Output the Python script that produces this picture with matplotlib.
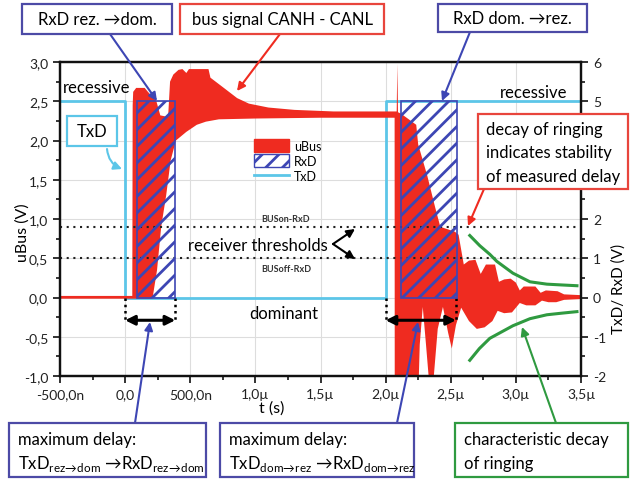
import matplotlib
matplotlib.use('Agg')
import matplotlib.pyplot as plt
from matplotlib.patches import Rectangle, Patch
from matplotlib.lines import Line2D
from matplotlib.ticker import MultipleLocator, FixedLocator, FuncFormatter

plt.rcParams['font.family'] = ['Lato', 'DejaVu Sans']
plt.rcParams['mathtext.fontset'] = 'custom'
plt.rcParams['mathtext.rm'] = 'Lato'
plt.rcParams['hatch.linewidth'] = 2.0

# time axis in microseconds
x_ticks = [-0.5, 0.0, 0.5, 1.0, 1.5, 2.0, 2.5, 3.0, 3.5]
x_tick_labels = ['-500,0n', '0,0', '500,0n', '1,0µ', '1,5µ', '2,0µ', '2,5µ', '3,0µ', '3,5µ']
# right axis labels hidden behind the "decay of ringing" box
right_hidden = [3, 4]

# bus signal (uBus, V): upper edge of the persistence band
bus_hi_t = [-0.5, 0.055, 0.058, 0.062, 0.085, 0.15, 0.175, 0.24, 0.27, 0.33, 0.345, 0.37,
            0.41, 0.44, 0.47, 0.49, 0.64, 0.655, 0.75, 0.86, 0.95, 1.1, 1.3, 1.6, 2.069,
            2.085, 2.09, 2.095, 2.12, 2.235, 2.25, 2.32, 2.38, 2.42, 2.53, 2.56, 2.60, 2.64,
            2.69, 2.73, 2.77, 2.84, 2.87, 2.91, 2.96, 3.0, 3.03, 3.06, 3.15, 3.19, 3.23, 3.32,
            3.37, 3.5]
bus_hi = [0.02, 0.02, 2.45, 2.62, 2.67, 2.67, 2.62, 2.5, 2.32, 2.3, 2.75, 2.84,
          2.9, 2.91, 2.86, 2.91, 2.91, 2.8, 2.68, 2.54, 2.47, 2.42, 2.39, 2.37, 2.37,
          2.37, 2.98, 2.36, 2.34, 2.2, 1.95, 1.55, 1.15, 0.9, 0.84, 0.8, 0.42, 0.47,
          0.48, 0.3, 0.42, 0.42, 0.2, 0.23, 0.24, 0.19, 0.09, 0.14, 0.14, 0.06, 0.09, 0.08,
          0.04, 0.03]
# lower edge of the band
bus_lo_t = [-0.5, 0.21, 0.245, 0.277, 0.315, 0.35, 0.39, 0.47, 0.55, 0.62, 0.72, 1.0, 1.5,
            2.069, 2.07, 2.25, 2.262, 2.285, 2.31, 2.345, 2.37, 2.40, 2.44, 2.48, 2.508,
            2.54, 2.58, 2.64, 2.70, 2.76, 2.82, 2.86, 2.91, 2.97, 3.03, 3.08, 3.15, 3.2,
            3.25, 3.31, 3.37, 3.5]
bus_lo = [-0.015, -0.015, 0.35, 0.9, 1.3, 1.75, 2.0, 2.11, 2.2, 2.24, 2.27, 2.28, 2.29,
          2.29, -1.3, -1.3, -0.6, -0.12, -0.6, -1.3, -1.0, -0.4, -0.12, -0.45, -0.65,
          -0.35, -0.13, -0.3, -0.4, -0.38, -0.3, -0.17, -0.2, -0.19, -0.07, -0.1, -0.1, -0.04,
          -0.06, -0.06, -0.03, -0.02]

# TxD (right axis, V)
txd_t = [-0.5, 0.0, 0.0, 2.0, 2.0, 3.5]
txd_v = [5, 5, 0, 0, 5, 5]

# RxD switching windows (right axis, V)
rxd_start = [0.09, 2.12]
rxd_end = [0.385, 2.55]
rxd_high = 5

# receiver thresholds (uBus, V)
thresholds = [0.9, 0.5]
threshold_names = ['BUSon-RxD', 'BUSoff-RxD']

# measured delays TxD -> RxD (µs)
delay_start = [0.0, 2.0]
delay_end = [0.385, 2.54]
delay_level = -0.29

# decay of ringing guide curves
decay_hi_t = [2.646, 2.723, 2.8, 2.854, 2.977, 3.108, 3.238, 3.35, 3.469]
decay_hi = [0.79, 0.66, 0.55, 0.46, 0.31, 0.2, 0.17, 0.16, 0.15]
decay_lo_t = [2.646, 2.72, 2.8, 2.977, 3.108, 3.238, 3.35, 3.469]
decay_lo = [-0.80, -0.65, -0.52, -0.36, -0.27, -0.22, -0.2, -0.18]

RED = '#ef2b20'
BLUE = '#3d46b4'
CYAN = '#5cc6e8'
GREEN = '#2f9a40'
BOXRED = '#e8453c'
BOXBLUE = '#4c4aa6'

W, H = 630, 481


def P(x, y):
    # pixel position (top-left origin) -> figure fraction
    return (x / W, 1 - y / H)


fig = plt.figure(figsize=(6.3, 4.81), dpi=100)
ax = fig.add_axes([60 / W, 1 - 377 / H, 521 / W, 314 / H])
ax2 = ax.twinx()

ax.set_xlim(-0.5, 3.5)
ax.set_ylim(-1.0, 3.0)
ax2.set_ylim(-2, 6)

ax.grid(True, color='#dddddd', lw=0.8)
ax.set_axisbelow(True)

# TxD under the bus signal
ax.plot(txd_t, txd_v, color=CYAN, lw=2, transform=ax2.transData, zorder=1.5)

poly_t = bus_hi_t + bus_lo_t[::-1]
poly_v = bus_hi + bus_lo[::-1]
ax.fill(poly_t, poly_v, color=RED, lw=0, zorder=2)

for s, e in zip(rxd_start, rxd_end):
    ax2.add_patch(Rectangle((s, 0), e - s, rxd_high, facecolor='none', edgecolor=BLUE,
                            hatch='//', lw=1.2, zorder=3))

for v in thresholds:
    ax.axhline(v, color='#222222', ls=(0, (1, 2.2)), lw=1.5, zorder=2.5)

ax.plot(decay_hi_t, decay_hi, color=GREEN, lw=2.2, zorder=4)
ax.plot(decay_lo_t, decay_lo, color=GREEN, lw=2.2, zorder=4)

for s, e in zip(delay_start, delay_end):
    for t in (s, e):
        ax.plot([t, t], [0, delay_level - 0.02], color='k', ls=(0, (1, 1.5)), lw=1.8, zorder=4)
    ax.annotate('', xy=(s, delay_level), xytext=(e, delay_level),
                arrowprops=dict(arrowstyle='<|-|>', color='k', lw=2.2, mutation_scale=14,
                                shrinkA=0, shrinkB=0), zorder=5)

# axes styling
ax.xaxis.set_major_locator(FixedLocator(x_ticks))
ax.set_xticklabels(x_tick_labels)
ax.xaxis.set_minor_locator(MultipleLocator(0.25))
ax.yaxis.set_major_locator(MultipleLocator(0.5))
ax.yaxis.set_minor_locator(MultipleLocator(0.25))
ax.yaxis.set_major_formatter(FuncFormatter(lambda v, p: f'{v:.1f}'.replace('.', ',')))
ax2.yaxis.set_major_locator(MultipleLocator(1))
ax2.yaxis.set_minor_locator(MultipleLocator(0.5))
ax2.yaxis.set_major_formatter(
    FuncFormatter(lambda v, p: '' if round(v) in right_hidden else f'{v:.0f}'))
for a in (ax, ax2):
    a.tick_params(which='major', direction='out', length=5, width=1.3, labelsize=10,
                  colors='#222222')
    a.tick_params(which='minor', direction='out', length=3, width=1.1)
    for sp in a.spines.values():
        sp.set_linewidth(1.6)
        sp.set_color('#111111')

ax.set_xlabel('t (s)', fontsize=11.5)
ax.xaxis.set_label_coords(0.407, -0.078)
ax.set_ylabel('uBus (V)', fontsize=11.5)
ax.yaxis.set_label_coords(-0.058, 0.46)
ax2.set_ylabel('TxD/ RxD (V)', fontsize=11)
ax2.yaxis.set_label_coords(1.058, 0.28)

# legend
handles = [Patch(facecolor=RED, edgecolor=RED),
           Patch(facecolor='white', edgecolor=BLUE, hatch='//'),
           Line2D([], [], color=CYAN, lw=2)]
ax2.legend(handles, ['uBus', 'RxD', 'TxD'], loc='upper left', bbox_to_anchor=P(254, 140),
           bbox_transform=fig.transFigure, frameon=False, fontsize=9, handlelength=2.8,
           handleheight=1.2, labelspacing=0.2, handletextpad=0.4, borderpad=0,
           borderaxespad=0)

# plain labels on the plot
fig.text(*P(97, 88), 'recessive', fontsize=12, ha='center', va='center')
fig.text(*P(534, 93), 'recessive', fontsize=12, ha='center', va='center')
fig.text(*P(284, 314), 'dominant', fontsize=12, ha='center', va='center')
fig.text(*P(258, 246), 'receiver thresholds', fontsize=12, ha='center', va='center')
fig.text(*P(286, 220), threshold_names[0], fontsize=6.5, weight='bold', ha='center',
         va='center', color='#333333')
fig.text(*P(286, 270), threshold_names[1], fontsize=6.5, weight='bold', ha='center',
         va='center', color='#333333')


def box(x0, y0, x1, y1, color):
    (fx0, fy1), (fx1, fy0) = P(x0, y1), P(x1, y0)
    fig.add_artist(Rectangle((fx0, fy1), fx1 - fx0, fy0 - fy1, transform=fig.transFigure,
                             facecolor='white', edgecolor=color, lw=1.6, zorder=5))


def arrow(tail, tip, color, rad=0.0, lw=1.5):
    ax2.annotate('', xy=P(*tip), xytext=P(*tail), xycoords='figure fraction',
                 arrowprops=dict(arrowstyle='-|>', color=color, lw=lw, mutation_scale=12,
                                 shrinkA=0, shrinkB=0, connectionstyle=f'arc3,rad={rad}'),
                 annotation_clip=False, zorder=6)


# arrows
arrow((110, 35), (157, 102), BLUE)
arrow((280, 35), (237, 92), RED)
arrow((470, 33), (442, 102), BLUE)
arrow((484, 190), (468, 227), RED)
arrow((107, 150), (122, 170), CYAN, rad=0.3)
arrow((135, 424), (150, 323), BLUE)
arrow((397, 424), (418, 323), BLUE)
arrow((556, 424), (522, 328), GREEN)
arrow((333, 245), (355, 230), 'k')
arrow((333, 245), (355, 260), 'k')

# annotation boxes
box(22, 5, 172, 35, BOXBLUE)
fig.text(*P(97, 20), 'RxD rez. →dom.', fontsize=12, ha='center', va='center', zorder=7)
box(180, 5, 384, 35, BOXRED)
fig.text(*P(282, 20), 'bus signal CANH - CANL', fontsize=12, ha='center', va='center', zorder=7)
box(438, 5, 587, 33, BOXBLUE)
fig.text(*P(512, 19), 'RxD dom. →rez.', fontsize=12, ha='center', va='center', zorder=7)
box(67, 117, 117, 147, CYAN)
fig.text(*P(92, 132), 'TxD', fontsize=12, ha='center', va='center', zorder=7)
box(478, 115, 628, 190, BOXRED)
for i, line in enumerate(['decay of ringing', 'indicates stability', 'of measured delay']):
    fig.text(*P(486, 130 + 23.5 * i), line, fontsize=12, ha='left', va='center', zorder=7)

box(9, 424, 206, 478, BOXBLUE)
fig.text(*P(18, 440), 'maximum delay:', fontsize=12, ha='left', va='center', zorder=7)
fig.text(*P(18, 464), r'TxD$_{\mathrm{rez\!\rightarrow\!dom}}$ →RxD$_{\mathrm{rez\!\rightarrow\!dom}}$',
         fontsize=12, ha='left', va='center', zorder=7)
box(220, 424, 414, 478, BOXBLUE)
fig.text(*P(229, 440), 'maximum delay:', fontsize=12, ha='left', va='center', zorder=7)
fig.text(*P(229, 464), r'TxD$_{\mathrm{dom\!\rightarrow\!rez}}$ →RxD$_{\mathrm{dom\!\rightarrow\!rez}}$',
         fontsize=12, ha='left', va='center', zorder=7)
box(455, 424, 628, 478, GREEN)
fig.text(*P(464, 440), 'characteristic decay', fontsize=12, ha='left', va='center', zorder=7)
fig.text(*P(464, 464), 'of ringing', fontsize=12, ha='left', va='center', zorder=7)

fig.savefig('out.png', dpi=100)
